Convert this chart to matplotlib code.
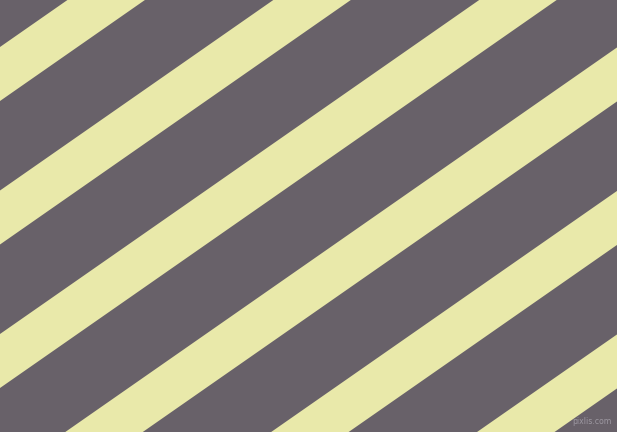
import numpy as np
import matplotlib
matplotlib.use("Agg")
import matplotlib.pyplot as plt

# Pattern data (pixel space of the 617x432 picture)
width_px = 617
height_px = 432
stripe_offsets = [47.0, 190.5, 334.0, 477.5, 621.0, 764.5]  # y of upper edge at x=0
stripe_thickness = 54.0   # vertical thickness of each light stripe
stripe_slope = 0.697      # rise per pixel (about 35 degrees)

bg_color = "#686169"
stripe_color = "#e9e9aa"

fig = plt.figure(figsize=(6.17, 4.32), dpi=100)
ax = fig.add_axes([0, 0, 1, 1])
ax.set_facecolor(bg_color)
fig.patch.set_facecolor(bg_color)

x = np.array([0.0, float(width_px)])
for b in stripe_offsets:
    upper = b - stripe_slope * x
    lower = b + stripe_thickness - stripe_slope * x
    ax.fill_between(x, upper, lower, color=stripe_color, linewidth=0)

ax.set_xlim(0, width_px)
ax.set_ylim(height_px, 0)
ax.axis("off")

ax.text(612, 421, "pixlis.com", color="#9d98a1", fontsize=5.6,
        ha="right", va="center", family="DejaVu Sans")

fig.savefig("out.png", dpi=100, facecolor=bg_color)
